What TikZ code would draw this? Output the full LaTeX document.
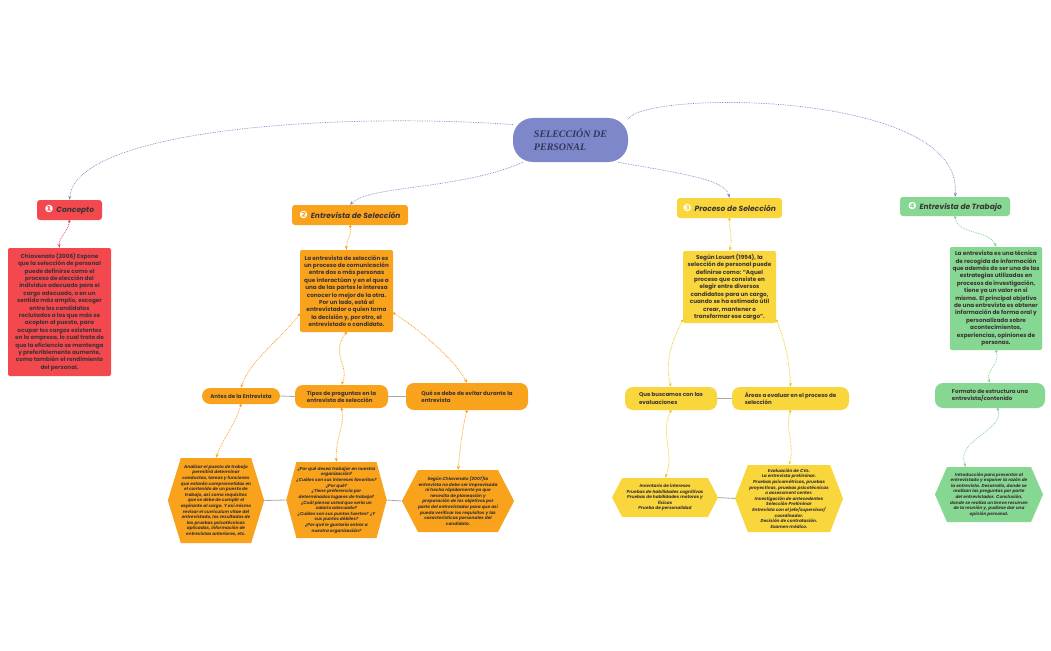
\documentclass[tikz,border=0pt]{standalone}
\usepackage{fontspec}
\setmainfont{Poppins}
\newfontfamily\titlefont{Liberation Serif}
\newfontfamily\dingfont{DejaVu Sans}
\usetikzlibrary{arrows.meta,shapes.symbols,calc}
\definecolor{cred}{HTML}{F4484F}
\definecolor{corange}{HTML}{F9A21C}
\definecolor{cyellow}{HTML}{F9D63C}
\definecolor{cyl}{HTML}{F2C81E}
\definecolor{cgreen}{HTML}{85D792}
\definecolor{ctitle}{HTML}{7D87C9}
\definecolor{ctxt}{HTML}{3C3434}
\definecolor{clink}{HTML}{7B84C4}
\definecolor{cgray}{HTML}{A8A8A8}
\definecolor{ctitletxt}{HTML}{33365A}
\tikzset{
  hdr/.style={fill=#1, rounded corners=3pt, inner sep=0pt, text=ctxt, font=\bfseries\itshape\fontsize{7.5}{8}\selectfont},
  bx/.style={fill=#1, rounded corners=2pt, inner sep=0pt, align=center, text=ctxt, font=\bfseries\fontsize{5.7}{7.4}\selectfont},
  rw/.style={fill=#1, rounded corners=8pt, inner sep=0pt, align=left, text=ctxt, font=\bfseries\fontsize{5.5}{7.3}\selectfont},
  hx/.style={fill=#1, signal, signal to=east and west, inner sep=0pt, align=center, text=ctxt, font=\bfseries\itshape\fontsize{4.3}{5.6}\selectfont},
  lk/.style={clink, densely dotted, line width=0.7pt, -{Stealth[length=4pt,width=3pt]}},
  ch/.style={#1, densely dotted, line width=0.8pt, {Circle[length=2.5pt]}-{Stealth[length=4pt,width=3pt]}},
  sib/.style={cgray, line width=0.8pt}
}
\newcommand{\numd}[1]{{\dingfont\fontsize{10}{10}\selectfont\color{white}#1}\hspace{3pt}}
\begin{document}
\begin{tikzpicture}[x=1pt,y=-1pt]
\fill[white] (0,0) rectangle (1051,650);
\useasboundingbox (0,0) rectangle (1051,650);

% title
\node[fill=ctitle, rounded corners=20pt, minimum width=115, minimum height=44, inner sep=0pt, align=left, text=ctitletxt, font=\titlefont\bfseries\itshape\fontsize{10}{13}\selectfont] (title) at (570.5,140) {SELECCIÓN DE\\PERSONAL};

% headers
\node[hdr=cred, minimum width=65, minimum height=20] (c1) at (69.5,210) {\numd{❶}Concepto};
\node[hdr=corange, minimum width=116, minimum height=20] (s1) at (350,215) {\numd{❷}Entrevista de Selección};
\node[hdr=cyellow, minimum width=105, minimum height=20] (p1) at (729.5,208) {\numd{❸}Proceso de Selección};
\node[hdr=cgreen, minimum width=110, minimum height=19] (t1) at (955,206.5) {\numd{❹}Entrevista de Trabajo};

% boxes
\node[bx=cred, minimum width=103, minimum height=128] (c1b) at (59.5,312) {Chiavenato (2006) Expone\\que la selección de personal\\puede definirse como el\\proceso de elección del\\individuo adecuado para el\\cargo adecuado, o en un\\sentido más amplio, escoger\\entre los candidatos\\reclutados a los que más se\\acoplen al puesto, para\\ocupar los cargos existentes\\en la empresa, lo cual trata de\\que la eficiencia se mantenga\\y preferiblemente aumente,\\como también el rendimiento\\del personal.};
\node[bx=corange, minimum width=93, minimum height=82] (s1b) at (346.5,291) {La entrevista de selección es\\un proceso de comunicación\\entre dos o más personas\\que interactúan y en el que a\\una de las partes le interesa\\conocer lo mejor de la otra.\\Por un lado, está el\\entrevistador o quien toma\\la decisión y, por otro, el\\entrevistado o candidato.};
\node[bx=cyellow, minimum width=93, minimum height=72] (p1b) at (729.5,287) {Según Louart (1994), la\\selección de personal puede\\definirse como: “Aquel\\proceso que consiste en\\elegir entre diversos\\candidatos para un cargo,\\cuando se ha estimado útil\\crear, mantener o\\transformar ese cargo”.};
\node[bx=cgreen, minimum width=92, minimum height=103] (t1b) at (996,298.5) {La entrevista es una técnica\\de recogida de información\\que además de ser una de las\\estrategias utilizadas en\\procesos de investigación,\\tiene ya un valor en sí\\misma. El principal objetivo\\de una entrevista es obtener\\información de forma oral y\\personalizada sobre\\acontecimientos,\\experiencias, opiniones de\\personas.};

% rows
\node[rw=corange, minimum width=78, minimum height=16] (s1r1) at (241,396) {Antes de la Entrevista};
\node[rw=corange, minimum width=93, minimum height=23] (s1r2) at (341.5,396.5) {Tipos de preguntas en la\\entrevista de selección};
\node[rw=corange, minimum width=122, minimum height=27] (s1r3) at (467,396.5) {Qué se debe de evitar durante la\\entrevista};
\node[rw=cyellow, minimum width=92, minimum height=23] (p1r1) at (671,398.5) {Que buscamos con las\\evaluaciones};
\node[rw=cyellow, minimum width=117, minimum height=23] (p1r2) at (790.5,398.5) {Áreas a evaluar en el proceso de\\selección};
\node[rw=cgreen, minimum width=110, minimum height=25] (t1r) at (990,395.5) {Formato de estructura una\\entrevista/contenido};

% hexagons
\node[hx=corange, minimum width=88, minimum height=85, signal pointer angle=146] (s1h1) at (216,500.5) {Analizar el puesto de trabajo\\permitirá determinar\\conductas, tareas y funciones\\que estarán comprometidas en\\el contenido de un puesto de\\trabajo, así como requisitos\\que se debe de cumplir el\\aspirante al cargo. Y así mismo\\revisar el currículum vitae del\\entrevistado, los resultados de\\las pruebas psicotécnicas\\aplicadas, información de\\entrevistas anteriores, etc.};
\node[hx=corange, minimum width=97, minimum height=76, signal pointer angle=150] (s1h2) at (336.5,500) {¿Por qué desea trabajar en nuestra\\organización?\\¿Cuáles son sus intereses favoritos?\\¿Por qué?\\¿Tiene preferencia por\\determinados lugares de trabajo?\\¿Cuál piensa usted que sería un\\salario adecuado?\\¿Cuáles son sus puntos fuertes? ¿Y\\sus puntos débiles?\\¿Por qué le gustaría entrar a\\nuestra organización?};
\node[hx=corange, minimum width=110, minimum height=62, signal pointer angle=125] (s1h3) at (458,501) {Según Chiavenato (2007)la\\entrevista no debe ser improvisada\\ni hecha rápidamente ya que\\necesita de planeación y\\preparación de los objetivos por\\parte del entrevistador para que así\\pueda verificar los requisitos y las\\características personales del\\candidato.};
\node[hx=cyellow, minimum width=106, minimum height=39, signal pointer angle=125] (p1h1) at (665,497.5) {Inventario de intereses\\Pruebas de habilidades cognitivas\\Pruebas de habilidades motoras y\\físicas\\Prueba de personalidad};
\node[hx=cyellow, minimum width=108, minimum height=67, signal pointer angle=138] (p1h2) at (789,498.5) {Evaluación de CVs.\\La entrevista preliminar.\\Pruebas psicométricas, pruebas\\proyectivas, pruebas psicotécnicas\\o assessment center.\\Investigación de antecedentes\\Selección Preliminar\\Entrevista con el jefe/supervisor/\\coordinador.\\Decisión de contratación.\\Examen médico.};
\node[hx=cgreen, minimum width=108, minimum height=55, signal pointer angle=133] (t1h) at (989,494.5) {Introducción para presentar al\\entrevistado y exponer la razón de\\la entrevista. Desarrollo, donde se\\realizan las preguntas por parte\\del entrevistador. Conclusión,\\donde se realiza un breve resumen\\de la reunión y, pudiese dar una\\opinión personal.};

% top-level links
\draw[lk] (title.165) .. controls (330,112) and (75,130) .. (c1.north);
\draw[lk] (title.205) .. controls (460,190) and (370,185) .. (s1.north);
\draw[lk] (title.335) .. controls (690,175) and (725,180) .. (p1.north);
\draw[lk] (title.20) .. controls (645,90) and (965,90) .. (t1.north);

% child links
\draw[ch=cred] (c1.south) .. controls (68,232) and (58,238) .. (c1b.north);
\draw[ch=corange] (s1.south) .. controls (352,235) and (346,240) .. (s1b.north);
\draw[ch=corange] (s1b.206) .. controls (280,340) and (250,360) .. (s1r1.north);
\draw[ch=corange] (s1b.south) .. controls (330,355) and (350,365) .. (s1r2.north);
\draw[ch=corange] (s1b.335) .. controls (420,330) and (455,360) .. (s1r3.north);
\draw[ch=corange] (s1r1.south) .. controls (235,425) and (222,440) .. (s1h1.north);
\draw[ch=corange] (s1r2.south) .. controls (345,425) and (335,440) .. (s1h2.north);
\draw[ch=corange] (s1r3.south) .. controls (462,430) and (460,450) .. (s1h3.north);
\draw[ch=cyl] (p1.south) .. controls (729,232) and (733,238) .. (p1b.north);
\draw[ch=cyl] (p1b.215) .. controls (670,345) and (665,365) .. (p1r1.north);
\draw[ch=cyl] (p1b.325) .. controls (785,340) and (790,365) .. (p1r2.north);
\draw[ch=cyl] (p1r1.south) .. controls (660,435) and (675,455) .. (p1h1.north);
\draw[ch=cyl] (p1r2.south) .. controls (785,430) and (795,445) .. (p1h2.north);
\draw[ch=cgreen] (t1.south) .. controls (958,235) and (990,230) .. (t1b.north);
\draw[ch=cgreen] (t1b.south) .. controls (1000,365) and (985,370) .. (t1r.north);
\draw[ch=cgreen] (t1r.300) .. controls (1005,430) and (955,440) .. (t1h.130);

% sibling lines
\draw[sib] (s1r1.east) -- (s1r2.west);
\draw[sib] (s1r2.east) -- (s1r3.west);
\draw[sib] (s1h1.east) -- (s1h2.west);
\draw[sib] (s1h2.east) -- (s1h3.west);
\draw[sib] (p1r1.east) -- (p1r2.west);
\draw[sib] (p1h1.east) -- (p1h2.west);
\end{tikzpicture}
\end{document}
